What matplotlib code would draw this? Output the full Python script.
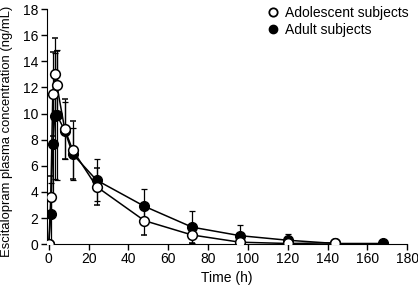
import matplotlib
matplotlib.use("Agg")
from matplotlib import pyplot as plt
from matplotlib.lines import Line2D
import numpy as np

plt.rcParams['font.family'] = ['Liberation Sans', 'DejaVu Sans']

# time points (h)
t_adol = [0, 1, 2, 3, 4, 8, 12, 24, 48, 72, 96, 120, 144]
t_adult = [0, 1, 2, 3, 4, 8, 12, 24, 48, 72, 96, 120, 144, 168]

# mean concentrations (ng/mL)
c_adol = [0, 3.6, 11.5, 13.0, 12.2, 8.8, 7.2, 4.4, 1.8, 0.7, 0.15, 0.05, 0.1]
c_adult = [0, 2.3, 7.7, 9.8, 9.9, 8.7, 6.9, 4.9, 2.9, 1.3, 0.65, 0.3, 0.05, 0.05]

# standard deviations
sd_adol = [0, 1.6, 3.2, 2.8, 2.6, 2.3, 2.2, 1.4, 1.1, 0.6, 0.2, 0.1, 0.1]
sd_adult = [0, 2.4, 4.0, 4.8, 5.0, 2.2, 2.0, 1.6, 1.35, 1.2, 0.8, 0.45, 0.1, 0.05]

fig = plt.figure(figsize=(4.18, 2.91), dpi=100)
ax = fig.add_axes([0.112, 0.161, 0.862, 0.808])

ax.errorbar(t_adult, c_adult, yerr=sd_adult, color="black", lw=1.1,
            marker="o", ms=7, mfc="black", mec="black", elinewidth=0.9,
            capsize=2.5, capthick=0.9, zorder=2)
ax.errorbar(t_adol, c_adol, yerr=sd_adol, color="black", lw=1.1,
            marker="o", ms=7, mfc="white", mec="black", mew=1.1,
            elinewidth=0.9, capsize=2.5, capthick=0.9, zorder=3)

ax.set_xlim(-1, 180)
ax.set_ylim(0, 18)
ax.set_xticks(np.arange(0, 181, 20))
ax.set_yticks(np.arange(0, 19, 2))
ax.spines["top"].set_visible(False)
ax.spines["right"].set_visible(False)
ax.spines["bottom"].set_bounds(0, 180)
ax.tick_params(direction="out", length=4, width=1, labelsize=10, pad=2)
ax.set_xlabel("Time (h)", fontsize=10, labelpad=3)
ax.set_ylabel("Escitalopram plasma concentration (ng/mL)", fontsize=9.4, labelpad=3)
ax.yaxis.set_label_coords(-0.095, 0.48)

handles = [Line2D([], [], ls="none", marker="o", ms=6, mfc="white", mec="black", mew=1.3),
           Line2D([], [], ls="none", marker="o", ms=6, mfc="black", mec="black")]
ax.legend(handles, ["Adolescent subjects", "Adult subjects"], loc="upper right",
          bbox_to_anchor=(1.02, 1.035), frameon=False, fontsize=10,
          handlelength=0.8, handletextpad=0.5, labelspacing=0.2, borderaxespad=0)

fig.savefig("out.png", dpi=100)
